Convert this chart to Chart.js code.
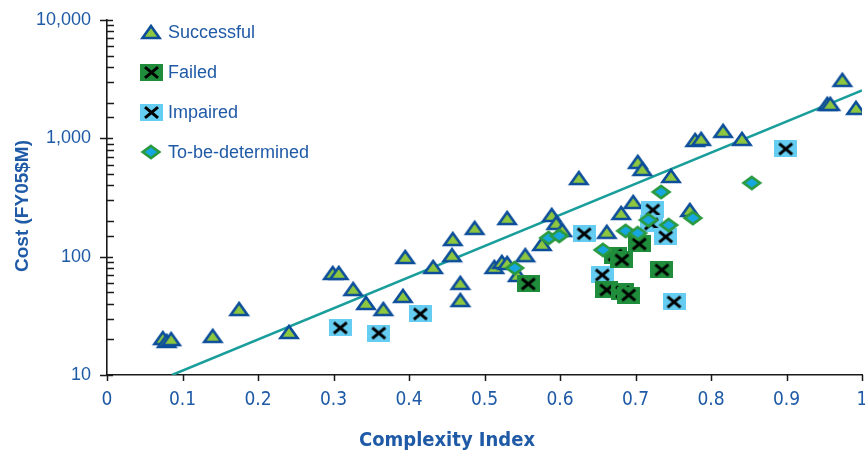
<!DOCTYPE html>
<html>
<head>
<meta charset="utf-8">
<script src="https://cdn.jsdelivr.net/npm/chart.js@4.4.1/dist/chart.umd.min.js"></script>
<style>
  html, body { margin: 0; padding: 0; background: #ffffff; }
  #wrap { width: 865px; height: 455px; position: relative; }
</style>
</head>
<body>
<div id="wrap"><canvas id="chart" width="865" height="455"></canvas></div>
<script>
// Program cost versus complexity index, by mission outcome
const seriesNames = ['Successful', 'Failed', 'Impaired', 'To-be-determined'];

const successfulX = [0.074, 0.079, 0.085, 0.140, 0.175, 0.241, 0.299, 0.307, 0.326, 0.343, 0.366,
  0.395, 0.392, 0.432, 0.458, 0.457, 0.468, 0.468, 0.487, 0.513, 0.523, 0.530, 0.530, 0.544,
  0.554, 0.576, 0.589, 0.595, 0.603, 0.625, 0.662, 0.681, 0.697, 0.703, 0.709, 0.747, 0.772,
  0.779, 0.787, 0.816, 0.841, 0.954, 0.958, 0.974, 0.992];
const successfulY = [20.5, 19.4, 20.1, 21.4, 36.1, 23.1, 72.8, 72.8, 53.3, 40.6, 36.1,
  99.4, 46.6, 81.8, 141, 103, 60, 43, 175, 81.8, 90.2, 212, 88.5, 70,
  103, 128, 225, 193, 168, 462, 162, 234, 290, 632, 551, 481, 248,
  969, 989, 1155, 989, 1954, 1954, 3117, 1807];

const failedX = [0.558, 0.673, 0.682, 0.705, 0.735, 0.662, 0.683, 0.691];
const failedY = [58.8, 103, 93.8, 128, 77.2, 52.3, 50.3, 47.4];

const impairedX = [0.309, 0.360, 0.415, 0.632, 0.656, 0.723, 0.721, 0.740, 0.751, 0.899];
const impairedY = [25.0, 22.6, 32.8, 156, 70, 248, 189, 147, 41.4, 813];

const tbdX = [0.540, 0.585, 0.599, 0.657, 0.687, 0.703, 0.734, 0.717, 0.744, 0.776, 0.854];
const tbdY = [80.3, 144, 150, 114, 165, 158, 352, 204, 185, 212, 420];

// Exponential trend, drawn as a straight line on the log axis
const trendX = [0.0861, 1.0];
const trendY = [10, 2540];

const xTickLabels = ['0', '0.1', '0.2', '0.3', '0.4', '0.5', '0.6', '0.7', '0.8', '0.9', '1'];
const yTickValues = [10, 100, 1000, 10000];
const yTickLabels = ['10', '100', '1,000', '10,000'];

const TEXT_BLUE = '#1f5aa6';
const pairs = (xs, ys) => xs.map((x, i) => ({ x: x, y: ys[i] }));

function makeMarker(w, h, paint) {
  const c = document.createElement('canvas');
  c.width = w; c.height = h;
  paint(c.getContext('2d'));
  return c;
}

const triangleMarker = makeMarker(24, 20, ctx => {
  ctx.beginPath();
  ctx.moveTo(12, 4.0);
  ctx.lineTo(20.5, 16);
  ctx.lineTo(3.5, 16);
  ctx.closePath();
  ctx.fillStyle = '#8dc63f';
  ctx.fill();
  ctx.lineJoin = 'miter';
  ctx.lineWidth = 2.6;
  ctx.strokeStyle = '#0d4e9b';
  ctx.stroke();
});

function boxMarker(fill) {
  return makeMarker(23, 17, ctx => {
    ctx.fillStyle = fill;
    ctx.fillRect(0, 0, 23, 17);
    ctx.strokeStyle = '#000000';
    ctx.lineWidth = 3;
    ctx.beginPath();
    ctx.moveTo(5, 3.2); ctx.lineTo(18, 13.8);
    ctx.moveTo(18, 3.2); ctx.lineTo(5, 13.8);
    ctx.stroke();
  });
}
const failedMarker = boxMarker('#1f8d3b');
const impairedMarker = boxMarker('#66cdf2');

const diamondMarker = makeMarker(22, 16, ctx => {
  ctx.beginPath();
  ctx.moveTo(11, 2.0);
  ctx.lineTo(19.2, 8);
  ctx.lineTo(11, 14.0);
  ctx.lineTo(2.8, 8);
  ctx.closePath();
  ctx.fillStyle = '#17a7e0';
  ctx.fill();
  ctx.lineJoin = 'miter';
  ctx.lineWidth = 2.7;
  ctx.strokeStyle = '#2a9a3f';
  ctx.stroke();
});

const legendMarkers = [triangleMarker, failedMarker, impairedMarker, diamondMarker];

// Axis tick marks, axis titles and the in-plot legend
const decorations = {
  id: 'decorations',
  beforeDatasetsDraw(chart) {
    const ctx = chart.ctx;
    const xs = chart.scales.x, ys = chart.scales.y;
    const area = chart.chartArea;
    ctx.save();
    ctx.strokeStyle = '#1a1a1a';
    ctx.lineWidth = 1.5;
    ctx.beginPath();
    ys.ticks.forEach(t => {
      const py = Math.round(ys.getPixelForValue(t.value)) + 0.5;
      const lg = Math.log10(t.value);
      const major = Math.abs(lg - Math.round(lg)) < 1e-6;
      if (major) { ctx.moveTo(area.left - 7, py); ctx.lineTo(area.left + 6, py); }
      else { ctx.moveTo(area.left, py); ctx.lineTo(area.left + 7, py); }
    });
    xs.ticks.forEach(t => {
      const px = Math.round(xs.getPixelForValue(t.value)) + 0.5;
      ctx.moveTo(px, area.bottom); ctx.lineTo(px, area.bottom + 6);
    });
    ctx.stroke();
    ctx.restore();
  },
  afterDraw(chart) {
    const ctx = chart.ctx;
    const area = chart.chartArea;
    ctx.save();
    // legend
    ctx.font = '18px "Liberation Sans", Arial, sans-serif';
    ctx.fillStyle = TEXT_BLUE;
    ctx.textBaseline = 'middle';
    ctx.textAlign = 'left';
    seriesNames.forEach((name, i) => {
      const cy = area.top + 12 + i * 40;
      const img = legendMarkers[i];
      ctx.drawImage(img, Math.round(area.left + 44 - img.width / 2), Math.round(cy - img.height / 2));
      ctx.fillText(name, area.left + 61, cy + 1);
    });
    // axis titles
    ctx.textAlign = 'center';
    ctx.font = 'bold 20px "Liberation Sans Narrow", "DejaVu Sans Condensed", Arial, sans-serif';
    ctx.fillText('Complexity Index', 447, 441);
    ctx.translate(23, 206);
    ctx.rotate(-Math.PI / 2);
    ctx.font = 'bold 19px "Liberation Sans", Arial, sans-serif';
    ctx.fillText('Cost (FY05$M)', 0, 0);
    ctx.restore();
  }
};

new Chart(document.getElementById('chart'), {
  type: 'scatter',
  data: {
    datasets: [
      { label: seriesNames[3], data: pairs(tbdX, tbdY), pointStyle: diamondMarker, pointRadius: 8 },
      { label: seriesNames[1], data: pairs(failedX, failedY), pointStyle: failedMarker, pointRadius: 10 },
      { label: seriesNames[2], data: pairs(impairedX, impairedY), pointStyle: impairedMarker, pointRadius: 10 },
      { label: seriesNames[0], data: pairs(successfulX, successfulY), pointStyle: triangleMarker, pointRadius: 10 },
      { label: 'Trend', type: 'line', data: pairs(trendX, trendY), showLine: true,
        borderColor: '#1a9e9b', borderWidth: 2.5, pointRadius: 0, fill: false }
    ]
  },
  options: {
    responsive: false,
    animation: false,
    events: [],
    layout: { autoPadding: false, padding: { top: 20, right: 3, bottom: 0, left: 0 } },
    plugins: { legend: { display: false }, tooltip: { enabled: false } },
    scales: {
      x: {
        type: 'linear', min: 0, max: 1,
        grid: { display: false },
        border: { display: true, color: '#1a1a1a', width: 1.6 },
        ticks: {
          stepSize: 0.1, autoSkip: false, maxRotation: 0, padding: 6,
          color: TEXT_BLUE,
          font: { family: '"Liberation Sans Narrow", "DejaVu Sans Condensed", Arial, sans-serif', size: 19 },
          callback: (v, i) => xTickLabels[i]
        },
        afterFit: s => { s.height = 80; s.paddingLeft = 0; s.paddingRight = 0; }
      },
      y: {
        type: 'logarithmic', min: 10, max: 10000,
        grid: { display: false },
        border: { display: true, color: '#1a1a1a', width: 1.6 },
        ticks: {
          autoSkip: false, padding: 8, color: TEXT_BLUE,
          font: { family: '"Liberation Sans", Arial, sans-serif', size: 18 },
          callback: v => {
            const k = yTickValues.findIndex(t => Math.abs(t - v) < 1e-6 * t);
            return k >= 0 ? yTickLabels[k] : '';
          }
        },
        afterFit: s => { s.width = 107; s.paddingTop = 0; s.paddingBottom = 0; }
      }
    }
  },
  plugins: [decorations]
});
</script>
</body>
</html>
